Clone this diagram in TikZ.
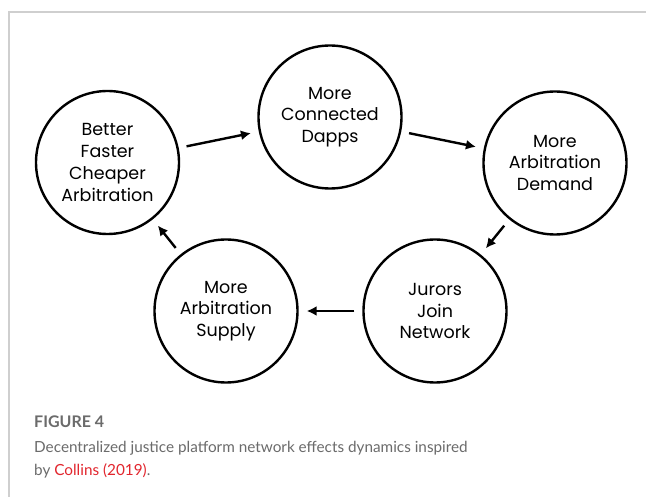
\documentclass[tikz,border=0pt]{standalone}
\usepackage{fontspec}
\setmainfont{Poppins}
\newfontfamily\capfont{Lato}
\usepackage{xcolor}
\usepackage{tikz}
\usetikzlibrary{arrows.meta,positioning}
\definecolor{framegray}{HTML}{CFCFCF}
\definecolor{capgray}{HTML}{6B6B6B}
\definecolor{citered}{HTML}{E2262E}

\begin{document}
\begin{tikzpicture}[x=1pt, y=-1pt,
    cyclenode/.style={circle, draw, line width=2.4pt, minimum size=143pt, inner sep=0pt,
      align=center, font=\fontsize{17.5}{21.7}\selectfont},
    cyclearrow/.style={-{Latex[length=10pt,width=10pt]}, line width=2.4pt,
      shorten >=8pt, shorten <=8pt},
    captext/.style={anchor=base west, inner sep=0pt, text=capgray,
      font=\capfont\fontsize{15.3}{22}\selectfont}]

  % page and frame
  \useasboundingbox (0,0) rectangle (646,497);
  \fill[white] (0,0) rectangle (646,497);
  \draw[framegray, line width=1.2pt] (9,497) -- (9,12) -- (646,12);

  % Cycle nodes
  \node[cyclenode] (better) at (107.5,162.5) {Better\\Faster\\Cheaper\\Arbitration};
  \node[cyclenode] (dapps) at (330,117) {More\\Connected\\Dapps};
  \node[cyclenode] (demand) at (555,163) {More\\Arbitration\\Demand};
  \node[cyclenode] (jurors) at (435,311) {Jurors\\Join\\Network};
  \node[cyclenode] (supply) at (226,311) {More\\Arbitration\\Supply};

  % network effect loop
  \draw[cyclearrow] (better) -- (dapps);
  \draw[cyclearrow] (dapps) -- (demand);
  \draw[cyclearrow] (demand) -- (jurors);
  \draw[cyclearrow] (jurors) -- (supply);
  \draw[cyclearrow] (supply) -- (better);

  % caption
  \node[captext, font=\capfont\bfseries\fontsize{16}{20}\selectfont] (figlabel) at (34,428) {FIGURE 4};
  \node[captext] (capline1) at (34,453)
    {Decentralized justice platform network effects dynamics inspired};
  \node[captext] (capline2) at (34,475) {by \textcolor{citered}{Collins (2019)}.};

\end{tikzpicture}
\end{document}
